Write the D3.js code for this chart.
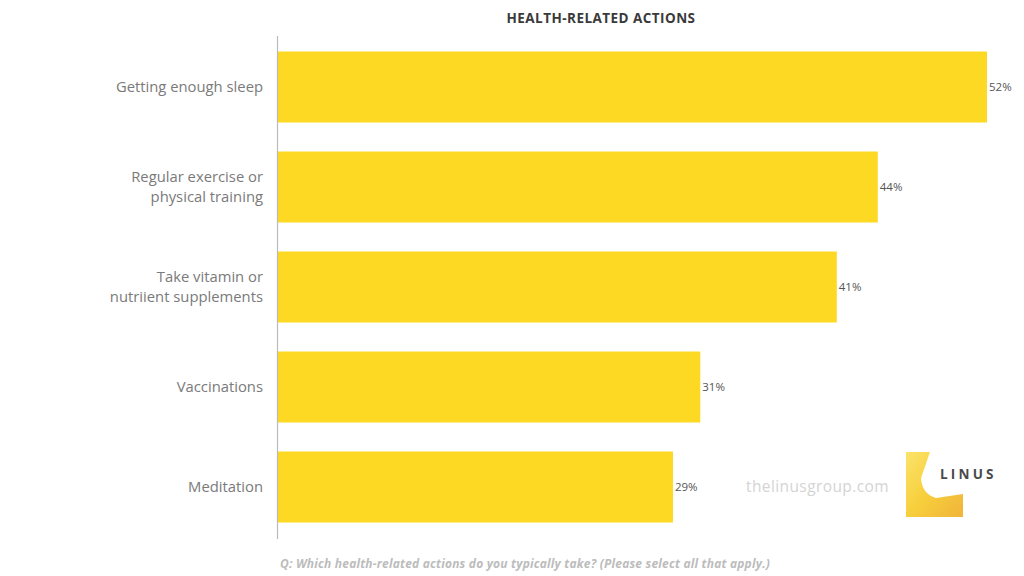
<!DOCTYPE html>
<html><head><meta charset="utf-8">
<script src="https://cdn.jsdelivr.net/npm/d3@7"></script>
<style>
html,body{margin:0;padding:0;background:#fff;}
svg{display:block;font-family:"Open Sans","Noto Sans",sans-serif;}
</style></head>
<body><svg id="c" width="1024" height="576"></svg>
<script>
const categories = [["Getting enough sleep"],["Regular exercise or","physical training"],["Take vitamin or","nutriient supplements"],["Vaccinations"],["Meditation"]];
const values = [52, 44, 41, 31, 29];
const valueLabels = ["52%","44%","41%","31%","29%"];
const title = "HEALTH-RELATED ACTIONS";
const question = "Q: Which health-related actions do you typically take? (Please select all that apply.)";

const svg = d3.select("#c");
const keys = categories.map((c,i)=>i);
const x = d3.scaleLinear().domain([0,52]).range([277,987]);
const y = d3.scaleBand().domain(keys).range([37,537]).paddingInner(0.29).paddingOuter(0.145);

svg.append("text").attr("x",601).attr("y",23).attr("text-anchor","middle")
  .attr("font-size",13.5).attr("font-weight","bold").attr("letter-spacing",0.45).attr("fill","#3a3a3a").text(title);

svg.append("g").selectAll("rect").data(values).join("rect")
  .attr("x",x(0)).attr("y",(d,i)=>y(i)).attr("width",d=>x(d)-x(0)).attr("height",y.bandwidth())
  .attr("fill","#fdd923");

svg.append("line").attr("x1",277.5).attr("x2",277.5).attr("y1",36).attr("y2",539)
  .attr("stroke","#bbb").attr("stroke-width",1.2);

const lab = svg.append("g").selectAll("text").data(categories).join("text")
  .attr("text-anchor","end").attr("font-size",14.8).attr("fill","#7a7a7a")
  .attr("transform",(d,i)=>`translate(263,${y(i)+y.bandwidth()/2})`);
lab.each(function(lines){
  const t=d3.select(this);
  const n=lines.length;
  lines.forEach((l,k)=>{
    t.append("tspan").attr("x",0).attr("y",(k-(n-1)/2)*19.5).attr("dy","0.35em").text(l);
  });
});

svg.append("g").selectAll("text").data(values).join("text")
  .attr("x",d=>x(d)+2).attr("y",(d,i)=>y(i)+y.bandwidth()/2).attr("dy","0.35em")
  .attr("font-size",11.5).attr("fill","#555").text((d,i)=>valueLabels[i]);

svg.append("text").attr("x",280).attr("y",568).attr("font-size",12).attr("font-style","italic")
  .attr("font-weight","bold").attr("letter-spacing",0.2).attr("fill","#bcbcbc").text(question);

svg.append("text").attr("x",746).attr("y",492).attr("font-size",15.5).attr("fill","#d4d4d4")
  .attr("letter-spacing",0.4).text("thelinusgroup.com");

// logo
const defs=svg.append("defs");
const g=defs.append("linearGradient").attr("id","lg").attr("x1","0").attr("y1","0").attr("x2","1").attr("y2","1");
g.append("stop").attr("offset","0").attr("stop-color","#fbe36a");
g.append("stop").attr("offset","0.5").attr("stop-color","#f7cf3c");
g.append("stop").attr("offset","1").attr("stop-color","#f0b43a");
svg.append("path").attr("d","M906,452 L930,452 L921,478 Q922,494 936,498 L963,494 L963,517 L906,517 Z")
  .attr("fill","url(#lg)");
svg.append("text").attr("x",940).attr("y",479).attr("font-size",13.5).attr("font-weight","bold")
  .attr("letter-spacing",3.2).attr("fill","#4a4a4a").text("LINUS");
</script></body></html>
